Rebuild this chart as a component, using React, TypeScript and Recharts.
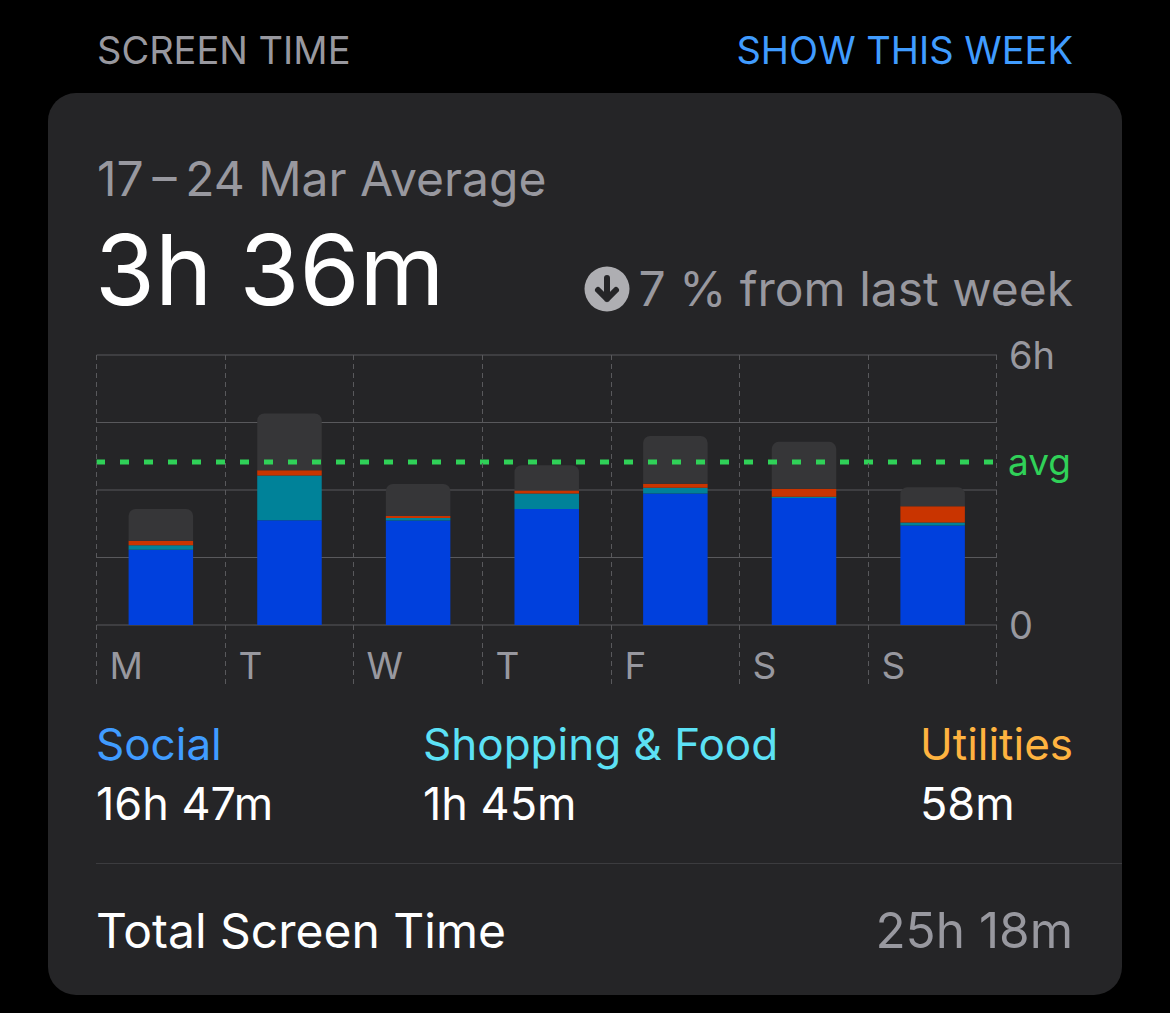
import { BarChart, Bar, XAxis, YAxis, CartesianGrid, ReferenceLine } from 'recharts'

const days = ['M', 'T', 'W', 'T', 'F', 'S', 'S']
const social = [1.67, 2.33, 2.32, 2.58, 2.92, 2.82, 2.21]
const shopping = [0.1, 0.99, 0.06, 0.34, 0.13, 0.03, 0.07]
const utilities = [0.1, 0.12, 0.045, 0.07, 0.09, 0.18, 0.36]
const other = [0.71, 1.26, 0.71, 0.56, 1.06, 1.04, 0.42]
const yTicks = [0, 1.5, 3, 4.5, 6]
const average = 3.62

const chartData = days.map((day, i) => ({
  id: i,
  day,
  social: social[i],
  shopping: shopping[i],
  utilities: utilities[i],
  other: other[i],
}))

const FONT = 'Inter, sans-serif'
const GRID = '#59595c'
const GRAY = '#98989f'

const CHART_TOP = 325
const PLOT_LEFT = 96.6
const PLOT_TOP = 30
const PLOT_WIDTH = 900.4
const STEP = PLOT_WIDTH / 7

function DayTick({ y, index }: any) {
  const left = Math.floor(PLOT_LEFT + index * STEP) + 0.5
  const right = Math.floor(PLOT_LEFT + (index + 1) * STEP) - 0.5
  const bottom = 360
  return (
    <g>
      <line x1={left} x2={left} y1={PLOT_TOP} y2={bottom} stroke={GRID} strokeWidth={1} strokeDasharray="5 4" />
      {index === days.length - 1 && (
        <line x1={right} x2={right} y1={PLOT_TOP} y2={bottom} stroke={GRID} strokeWidth={1} strokeDasharray="5 4" />
      )}
      <text x={left + 13} y={y + 46} fill={GRAY} fontSize={37} fontFamily={FONT}>
        {days[index]}
      </text>
    </g>
  )
}

function HourTick({ x, y, payload }: any) {
  const label = payload.value === 6 ? '6h' : payload.value === 0 ? '0' : ''
  return (
    <text x={x} y={y + 14} fill={GRAY} fontSize={38} fontFamily={FONT}>
      {label}
    </text>
  )
}

export default function App() {
  return (
    <div style={{ position: 'absolute', left: 0, top: 0, width: 1170, height: 1013, background: '#000', overflow: 'hidden' }}>
      <div style={{ position: 'absolute', left: 48, top: 93, width: 1074, height: 902, borderRadius: 28, background: '#252527' }} />

      <svg width={1170} height={1013} style={{ position: 'absolute', left: 0, top: 0 }} fontFamily={FONT}>
        <text x={97} y={64} fill={GRAY} fontSize={38}>SCREEN TIME</text>
        <text x={1073} y={64} fill="#409cff" fontSize={38} textAnchor="end">SHOW THIS WEEK</text>
        <text x={97} y={196} fill={GRAY} fontSize={48}>17{'\u2009'}–{'\u2009'}24 Mar Average</text>
        <text x={95} y={305} fill="#fff" fontSize={97}>3h 36m</text>

        <circle cx={607} cy={289} r={22.5} fill="#aeaeb2" />
        <path d="M607 278 V299 M598 290 L607 299 L616 290" stroke="#252527" strokeWidth={6} fill="none" strokeLinecap="round" strokeLinejoin="round" />
        <text x={1073} y={306} fill={GRAY} fontSize={48} textAnchor="end">7 % from last week</text>

        <text x={96} y={760} fill="#409cff" fontSize={44}>Social</text>
        <text x={96} y={820} fill="#fff" fontSize={45}>16h 47m</text>
        <text x={423} y={760} fill="#5ce1f5" fontSize={44}>Shopping &amp; Food</text>
        <text x={423} y={820} fill="#fff" fontSize={45}>1h 45m</text>
        <text x={920} y={760} fill="#ffb340" fontSize={44}>Utilities</text>
        <text x={920} y={820} fill="#fff" fontSize={45}>58m</text>

        <line x1={96} x2={1122} y1={863.5} y2={863.5} stroke="#3c3c3f" strokeWidth={1} />
        <text x={96} y={948} fill="#fff" fontSize={48}>Total Screen Time</text>
        <text x={1073} y={948} fill={GRAY} fontSize={49.5} textAnchor="end">25h 18m</text>
      </svg>

      <div style={{ position: 'absolute', left: 0, top: CHART_TOP }}>
        <BarChart
          width={1170}
          height={375}
          data={chartData}
          margin={{ top: PLOT_TOP, left: PLOT_LEFT, right: 0, bottom: 0 }}
          barSize={64.5}
        >
          <CartesianGrid vertical={false} stroke={GRID} strokeWidth={1} />
          <XAxis
            dataKey="id"
            height={75}
            axisLine={false}
            tickLine={false}
            interval={0}
            tick={(props: any) => <DayTick {...props} index={props.payload.value} />}
          />
          <YAxis
            orientation="right"
            width={173}
            domain={[0, 6]}
            ticks={yTicks}
            axisLine={false}
            tickLine={false}
            tickMargin={6}
            tick={<HourTick />}
          />
          <Bar dataKey="social" stackId="day" fill="#0040dd" isAnimationActive={false} />
          <Bar dataKey="shopping" stackId="day" fill="#008299" isAnimationActive={false} />
          <Bar dataKey="utilities" stackId="day" fill="#c93400" isAnimationActive={false} />
          <Bar dataKey="other" stackId="day" fill="#363638" radius={[7, 7, 0, 0]} isAnimationActive={false} />
          <ReferenceLine
            y={average}
            stroke="#30d158"
            strokeWidth={5}
            strokeDasharray="9 15"
            strokeDashoffset={20}
            label={{ value: 'avg', position: 'right', fill: '#30d158', fontSize: 37, fontFamily: FONT, dx: 6 }}
          />
        </BarChart>
      </div>
    </div>
  )
}
